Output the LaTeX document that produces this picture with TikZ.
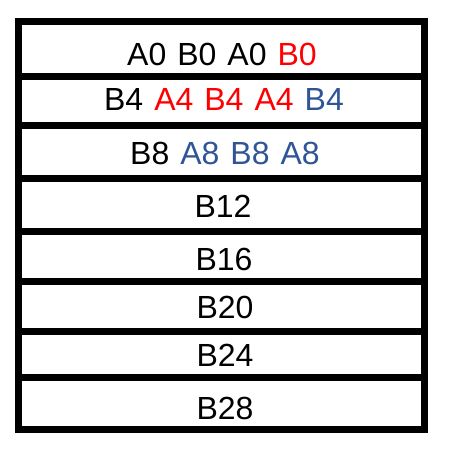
\documentclass[tikz,border=0pt]{standalone}
\usepackage{fontspec}
\setmainfont{Liberation Sans}
\definecolor{myred}{RGB}{255,0,0}
\definecolor{myblue}{RGB}{47,85,151}
\newcommand{\rowfont}{\fontsize{32}{36}\selectfont\spaceskip=11pt\relax}
\begin{document}
\begin{tikzpicture}[x=1pt,y=-1pt,
  rowline/.style={line width=7pt,black},
  label/.style={anchor=base,inner sep=0pt,font=\rowfont}]
\useasboundingbox (0,0) rectangle (450,454);
\coordinate (tl) at (18,21.7);
\coordinate (br) at (424.5,429.7);
\draw[rowline,line join=miter] (tl) rectangle (br);
\foreach \y [count=\i] in {76.3,126,178.7,231.7,281.7,331,377.7}{
  \coordinate (l\i) at (18,\y);
  \coordinate (r\i) at (424.5,\y);
  \draw[rowline] (l\i) -- (r\i);
}
\node[label] (t1) at (222,66) {A0 B0 A0 \textcolor{myred}{B0}};
\node[label] (t2) at (224,111) {B4 \textcolor{myred}{A4 B4 A4} \textcolor{myblue}{B4}};
\node[label] (t3) at (225,165) {B8 \textcolor{myblue}{A8 B8 A8}};
\node[label] (t4) at (223,217.7) {B12};
\node[label] (t5) at (224,270) {B16};
\node[label] (t6) at (225,318.3) {B20};
\node[label] (t7) at (225,366.7) {B24};
\node[label] (t8) at (225,419.3) {B28};
\end{tikzpicture}
\end{document}
